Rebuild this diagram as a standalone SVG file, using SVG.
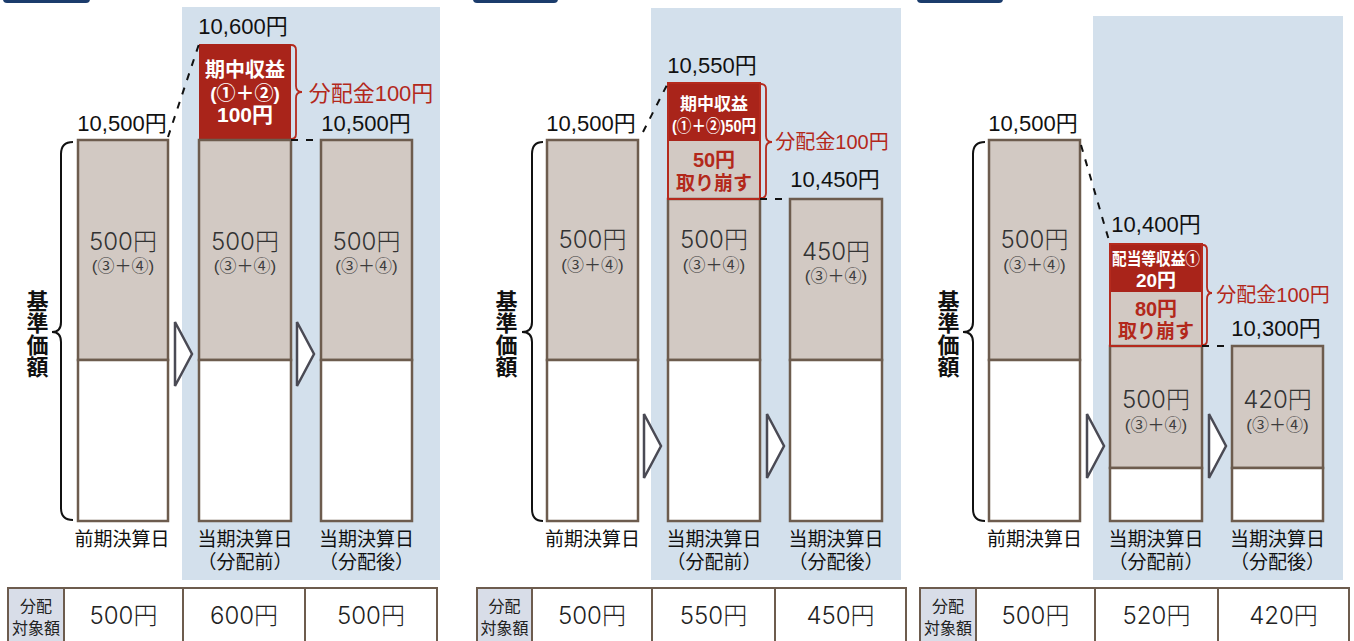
<svg xmlns="http://www.w3.org/2000/svg" width="1354" height="641" viewBox="0 0 1354 641">
<style>
text{font-family:"Liberation Sans","Noto Sans CJK JP",sans-serif;text-anchor:middle}
.bg{fill:#d3e0ec}
.tab{fill:#1b3c6c}
.gray{fill:#d2c9c3;stroke:#6d5c4e;stroke-width:2.5}
.white{fill:#fff;stroke:#6d5c4e;stroke-width:2.5}
.grayn{fill:#d2c9c3}
.red{fill:#a9241a}
.rout{fill:none;stroke:#b52a1d;stroke-width:2}
.dash{stroke:#111;stroke-width:2;stroke-dasharray:7 8;fill:none}
.arrow{fill:#fff;stroke:#4a4a54;stroke-width:2.5}
.brace{fill:none;stroke:#111;stroke-width:2}
.rbrace{fill:none;stroke:#b52a1d;stroke-width:1.8}
.cell{fill:#fff;stroke:#6d5c4e;stroke-width:2}
.hcell{fill:#d8dde8;stroke:#6d5c4e;stroke-width:2}
.val{font-size:22px;fill:#111}
.amt{font-family:Inter,"Noto Sans CJK JP",sans-serif;font-size:24px;font-weight:300;fill:#333}
.sub{font-size:17px;fill:#3c3c3c}
.lbl{font-size:19px;fill:#111}
.vt{font-size:22px;font-weight:bold;fill:#111;writing-mode:vertical-rl}
.wt{fill:#fff;font-weight:bold}
.rt{fill:#b3281b;font-weight:bold}
.dist{fill:#b3281b}
.th{font-size:16px;fill:#222}
.tv{font-family:Inter,"Noto Sans CJK JP",sans-serif;font-size:24px;font-weight:300;fill:#222}
</style>

<!-- ============ Panel 1 ============ -->
<g id="panel1">
  <rect class="tab" x="3" y="-10" width="87" height="13" rx="4"/>
  <rect class="bg" x="182" y="7" width="258" height="573"/>
</g>
<g id="p1-bar1">
  <rect class="gray" x="78" y="140" width="90" height="220"/>
  <rect class="white" x="78" y="360" width="90" height="161"/>
  <text class="amt" x="123" y="250">500円</text>
  <text class="sub" x="123" y="272">(③＋④)</text>
  <text class="val" x="122" y="131">10,500円</text>
  <text class="lbl" x="122" y="546">前期決算日</text>
</g>
<g id="p1-bar2">
  <rect class="red" x="199" y="44" width="92" height="96"/>
  <rect class="gray" x="199" y="140" width="92" height="220"/>
  <rect class="white" x="199" y="360" width="92" height="161"/>
  <text class="wt" x="245" y="77" font-size="20">期中収益</text>
  <text class="wt" x="245" y="100" font-size="19">(①＋②)</text>
  <text class="wt" x="245" y="122" font-size="21">100円</text>
  <text class="amt" x="245" y="250">500円</text>
  <text class="sub" x="245" y="272">(③＋④)</text>
  <text class="val" x="243" y="34">10,600円</text>
  <text class="lbl" x="245" y="546">当期決算日</text>
  <text class="lbl" x="245" y="569">（分配前）</text>
</g>
<g id="p1-bar3">
  <rect class="gray" x="321" y="140" width="91" height="220"/>
  <rect class="white" x="321" y="360" width="91" height="161"/>
  <text class="amt" x="366.5" y="250">500円</text>
  <text class="sub" x="366.5" y="272">(③＋④)</text>
  <text class="val" x="366" y="131">10,500円</text>
  <text class="lbl" x="366.5" y="546">当期決算日</text>
  <text class="lbl" x="366.5" y="569">（分配後）</text>
</g>
<g id="p1-nav">
  <path class="brace" d="M73,142 Q61,142 61,154 L61,322 Q61,332 52,332 Q61,332 61,342 L61,508 Q61,520 73,520"/>
  <text class="vt" x="35" y="334">基準価額</text>
</g>
<g id="p1-dist">
  <path class="rbrace" d="M291,45 Q296,45 296,50 L296,86 Q296,92 302,92 Q296,92 296,98 L296,134 Q296,139 291,139"/>
  <text class="dist" x="371" y="101" font-size="22">分配金100円</text>
</g>
<g id="p1-table">
  <rect class="hcell" x="8" y="588" width="56" height="58"/>
  <rect class="cell" x="64" y="588" width="119" height="58"/>
  <rect class="cell" x="183" y="588" width="122" height="58"/>
  <rect class="cell" x="305" y="588" width="132" height="58"/>
  <text class="th" x="36" y="612">分配</text>
  <text class="th" x="36" y="634" font-size="17">対象額</text>
  <text class="tv" x="123.5" y="624">500円</text>
  <text class="tv" x="244" y="624">600円</text>
  <text class="tv" x="371" y="624">500円</text>
</g>

<!-- ============ Panel 2 ============ -->
<g id="panel2">
  <rect class="tab" x="473" y="-10" width="85" height="13" rx="4"/>
  <rect class="bg" x="651" y="8" width="250" height="572"/>
</g>
<g id="p2-bar1">
  <rect class="gray" x="547" y="140" width="91" height="220"/>
  <rect class="white" x="547" y="360" width="91" height="161"/>
  <text class="amt" x="592.5" y="248">500円</text>
  <text class="sub" x="592.5" y="271">(③＋④)</text>
  <text class="val" x="591" y="131">10,500円</text>
  <text class="lbl" x="592.5" y="546">前期決算日</text>
</g>
<g id="p2-bar2">
  <rect class="red" x="668" y="83" width="92" height="58"/>
  <rect class="grayn" x="668" y="141" width="92" height="58"/>
  <rect class="gray" x="668" y="199" width="92" height="161"/>
  <rect class="white" x="668" y="360" width="92" height="161"/>
  <rect class="rout" x="668" y="83" width="92" height="116"/>
  <text class="wt" x="714" y="110" font-size="17">期中収益</text>
  <text class="wt" x="714" y="132" font-size="17" textLength="84" lengthAdjust="spacingAndGlyphs">(①＋②)50円</text>
  <text class="rt" x="714" y="167" font-size="20">50円</text>
  <text class="rt" x="714" y="190" font-size="19">取り崩す</text>
  <text class="amt" x="714" y="248">500円</text>
  <text class="sub" x="714" y="271">(③＋④)</text>
  <text class="val" x="712" y="73">10,550円</text>
  <text class="lbl" x="714" y="546">当期決算日</text>
  <text class="lbl" x="714" y="569">（分配前）</text>
</g>
<g id="p2-bar3">
  <rect class="gray" x="790" y="199" width="92" height="161"/>
  <rect class="white" x="790" y="360" width="92" height="161"/>
  <text class="amt" x="836" y="260">450円</text>
  <text class="sub" x="836" y="282">(③＋④)</text>
  <text class="val" x="835" y="187">10,450円</text>
  <text class="lbl" x="836" y="546">当期決算日</text>
  <text class="lbl" x="836" y="569">（分配後）</text>
</g>
<g id="p2-nav">
  <path class="brace" d="M543,142 Q532,142 532,154 L532,322 Q532,332 522,332 Q532,332 532,342 L532,509 Q532,521 543,521"/>
  <text class="vt" x="504" y="334">基準価額</text>
</g>
<g id="p2-dist">
  <path class="rbrace" d="M761,84 Q766,84 766,89 L766,136 Q766,142 772,142 Q766,142 766,148 L766,193 Q766,198 761,198"/>
  <text class="dist" x="832" y="149" font-size="20">分配金100円</text>
</g>
<g id="p2-table">
  <rect class="hcell" x="477" y="588" width="55" height="58"/>
  <rect class="cell" x="532" y="588" width="120" height="58"/>
  <rect class="cell" x="652" y="588" width="123" height="58"/>
  <rect class="cell" x="775" y="588" width="131" height="58"/>
  <text class="th" x="504.5" y="612">分配</text>
  <text class="th" x="504.5" y="634" font-size="17">対象額</text>
  <text class="tv" x="592" y="624">500円</text>
  <text class="tv" x="713.5" y="624">550円</text>
  <text class="tv" x="840.5" y="624">450円</text>
</g>

<!-- ============ Panel 3 ============ -->
<g id="panel3">
  <rect class="tab" x="917" y="-10" width="86" height="13" rx="4"/>
  <rect class="bg" x="1093" y="16" width="250" height="564"/>
</g>
<g id="p3-bar1">
  <rect class="gray" x="989" y="140" width="91" height="220"/>
  <rect class="white" x="989" y="360" width="91" height="161"/>
  <text class="amt" x="1034.5" y="248">500円</text>
  <text class="sub" x="1034.5" y="271">(③＋④)</text>
  <text class="val" x="1033" y="131">10,500円</text>
  <text class="lbl" x="1034.5" y="546">前期決算日</text>
</g>
<g id="p3-bar2">
  <rect class="red" x="1110" y="244" width="92" height="48"/>
  <rect class="grayn" x="1110" y="292" width="92" height="54"/>
  <rect class="gray" x="1110" y="346" width="92" height="122"/>
  <rect class="white" x="1110" y="468" width="92" height="53"/>
  <rect class="rout" x="1110" y="244" width="92" height="102"/>
  <text class="wt" x="1156" y="265" font-size="17" textLength="88" lengthAdjust="spacingAndGlyphs">配当等収益①</text>
  <text class="wt" x="1156" y="287" font-size="19">20円</text>
  <text class="rt" x="1156" y="316" font-size="20">80円</text>
  <text class="rt" x="1156" y="338" font-size="19">取り崩す</text>
  <text class="amt" x="1156" y="408">500円</text>
  <text class="sub" x="1156" y="431">(③＋④)</text>
  <text class="val" x="1156" y="232">10,400円</text>
  <text class="lbl" x="1156" y="546">当期決算日</text>
  <text class="lbl" x="1156" y="569">（分配前）</text>
</g>
<g id="p3-bar3">
  <rect class="gray" x="1232" y="346" width="91" height="122"/>
  <rect class="white" x="1232" y="468" width="91" height="53"/>
  <text class="amt" x="1277.5" y="408">420円</text>
  <text class="sub" x="1277.5" y="431">(③＋④)</text>
  <text class="val" x="1276" y="336">10,300円</text>
  <text class="lbl" x="1277.5" y="546">当期決算日</text>
  <text class="lbl" x="1277.5" y="569">（分配後）</text>
</g>
<g id="p3-nav">
  <path class="brace" d="M985,142 Q973,142 973,154 L973,322 Q973,332 963,332 Q973,332 973,342 L973,509 Q973,521 985,521"/>
  <text class="vt" x="946" y="334">基準価額</text>
</g>
<g id="p3-dist">
  <path class="rbrace" d="M1203,245 Q1207,245 1207,250 L1207,287 Q1207,293 1212,293 Q1207,293 1207,299 L1207,340 Q1207,345 1203,345"/>
  <text class="dist" x="1273" y="302" font-size="20">分配金100円</text>
</g>
<g id="p3-table">
  <rect class="hcell" x="920" y="588" width="56" height="58"/>
  <rect class="cell" x="976" y="588" width="119" height="58"/>
  <rect class="cell" x="1095" y="588" width="123" height="58"/>
  <rect class="cell" x="1218" y="588" width="131" height="58"/>
  <text class="th" x="948" y="612">分配</text>
  <text class="th" x="948" y="634" font-size="17">対象額</text>
  <text class="tv" x="1035.5" y="624">500円</text>
  <text class="tv" x="1156.5" y="624">520円</text>
  <text class="tv" x="1283.5" y="624">420円</text>
</g>

<!-- ============ Connectors ============ -->
<g id="connectors">
  <path class="dash" d="M168,137 L199,44"/>
  <path class="dash" d="M291,140 L321,140"/>
  <path class="arrow" d="M175,322 L192,354 L175,386 Z"/>
  <path class="arrow" d="M297,322 L314,354 L297,386 Z"/>

  <path class="dash" d="M643,132 L668,83"/>
  <path class="dash" d="M760,199 L790,199"/>
  <path class="arrow" d="M644,414 L661,446 L644,478 Z"/>
  <path class="arrow" d="M767,414 L784,446 L767,478 Z"/>

  <path class="dash" d="M1081,145 L1110,244"/>
  <path class="dash" d="M1202,346 L1232,346"/>
  <path class="arrow" d="M1087,414 L1104,446 L1087,478 Z"/>
  <path class="arrow" d="M1209,414 L1226,446 L1209,478 Z"/>
</g>
</svg>
